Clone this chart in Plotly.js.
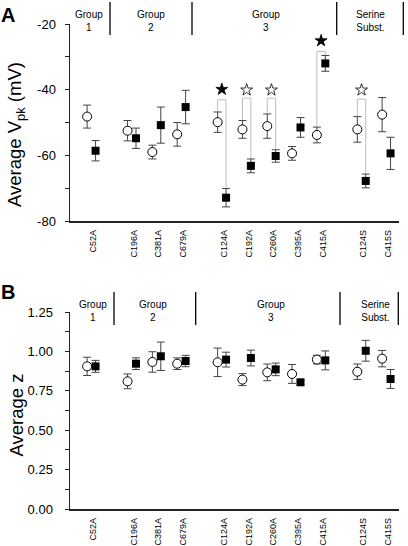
<!DOCTYPE html>
<html>
<head>
<meta charset="utf-8">
<script src="https://cdn.plot.ly/plotly-3.0.1.min.js"></script>
<style>
html,body{margin:0;padding:0;background:#fff;}
#chart{width:408px;height:546px;}
</style>
</head>
<body>
<div id="chart"></div>
<script>
// ---------- data ----------
const categories = ['C52A','C196A','C381A','C679A','C124A','C192A','C260A','C395A','C415A','C124S','C415S'];
const groupIdx   = [0,1,1,1,2,2,2,2,2,3,3];
const groupNames = ['Group<br>1','Group<br>2','Group<br>3','Serine<br>Subst.'];

const vpkOpen       = [-48.2,-52.5,-59.0,-53.6,-49.9,-52.1,-51.1,-59.4,-53.8,-52.1,-47.6];
const vpkOpenErr    = [3.5,3.1,2.1,3.6,3.1,2.7,3.7,2.1,2.4,3.9,5.2];
const vpkFilled     = [-58.6,-54.8,-50.8,-45.3,-72.9,-63.2,-60.2,-51.5,-32.0,-67.8,-59.4];
const vpkFilledErr  = [3.1,3.1,5.5,5.1,2.8,2.1,1.9,3.0,2.4,2.1,4.9];

const zOpen         = [0.905,0.810,0.933,0.922,0.931,0.821,0.867,0.857,0.948,0.871,0.954];
const zOpenErr      = [0.058,0.047,0.065,0.037,0.090,0.038,0.053,0.060,0.027,0.049,0.052];
const zFilled       = [0.905,0.922,0.969,0.939,0.948,0.958,0.886,0.804,0.943,1.004,0.825];
const zFilledErr    = [0.038,0.037,0.090,0.036,0.047,0.050,0.040,0.012,0.060,0.066,0.060];

// significance markers (panel A)
const sigCats    = ['C124A','C192A','C260A','C415A','C124S'];
const sigStrong  = [true,false,false,true,false];
const bracketTop = [-43.1,-42.6,-42.6,-28.4,-42.9];
const starY      = [-39.9,-40.1,-40.1,-25.1,-40.1];

const yTicksA = [-80,-60,-40,-20];
const yTicksB = [0,0.25,0.5,0.75,1.0,1.25];

// ---------- layout helpers ----------
const W = 408, H = 546;
const GROUP_GAP = 0.63;
const CIRC_OFF = -0.25, SQ_OFF = 0.09;
const pos = categories.map((c,i)=> i + groupIdx[i]*GROUP_GAP);
const xRange = [-0.94, pos[pos.length-1] + 0.43];
const FONT = 'Liberation Sans, Arial, Helvetica, sans-serif';
const px = v => v / W;
const py = v => 1 - v / H;

const errStyle = (arr) => ({type:'data', array:arr, visible:true, color:'#444', thickness:1, width:4});

function pointTraces(xa, ya, openV, openE, filledV, filledE){
  return [
    {type:'scatter', mode:'markers', xaxis:xa, yaxis:ya, cliponaxis:false,
     x: pos.map(p=>p+CIRC_OFF), y: openV, error_y: errStyle(openE),
     marker:{symbol:'circle', size:9, color:'#fff', line:{color:'#000', width:1}}, showlegend:false, hoverinfo:'skip'},
    {type:'scatter', mode:'markers', xaxis:xa, yaxis:ya, cliponaxis:false,
     x: pos.map(p=>p+SQ_OFF), y: filledV, error_y: errStyle(filledE),
     marker:{symbol:'square', size:8, color:'#000', line:{color:'#000', width:0}}, showlegend:false, hoverinfo:'skip'}
  ];
}

// brackets
const bx = [], by = [];
sigCats.forEach((c,k)=>{
  const i = categories.indexOf(c);
  const xc = pos[i]+CIRC_OFF, xs = pos[i]+SQ_OFF;
  bx.push(xc, xc, xs, xs, null);
  by.push(vpkOpen[i]+vpkOpenErr[i], bracketTop[k], bracketTop[k], vpkFilled[i]+vpkFilledErr[i], null);
});
const bracketTrace = {type:'scatter', mode:'lines', xaxis:'x', yaxis:'y', x:bx, y:by,
  line:{color:'#bdbdbd', width:1}, showlegend:false, hoverinfo:'skip', cliponaxis:false};
const starTrace = {type:'scatter', mode:'markers', xaxis:'x', yaxis:'y', cliponaxis:false,
  x: sigCats.map(c=>pos[categories.indexOf(c)] + (CIRC_OFF+SQ_OFF)/2),
  y: starY,
  marker:{symbol: sigStrong.map(s=> s ? 'star' : 'star-open'), size:9, color:'#000', line:{color:'#000', width:0.8}},
  showlegend:false, hoverinfo:'skip'};

const data = [bracketTrace]
  .concat(pointTraces('x','y', vpkOpen, vpkOpenErr, vpkFilled, vpkFilledErr))
  .concat([starTrace])
  .concat(pointTraces('x2','y2', zOpen, zOpenErr, zFilled, zFilledErr));

const xDom = [70/W, 399/W];
const xaxisBase = {
  domain: xDom, range: xRange, tickmode:'array', tickvals: pos, ticktext: categories,
  tickangle: -90, tickfont:{size:9, family:FONT, color:'#000'}, ticks:'', showgrid:false, zeroline:false,
  showline:true, linecolor:'#222', linewidth:1.5, ticklabelstandoff: 4, fixedrange:true
};
const yaxisBase = {
  ticks:'outside', ticklen:4, tickwidth:1, tickcolor:'#222', showgrid:false, zeroline:false,
  showline:true, linecolor:'#222', linewidth:1.5, tickfont:{size:13, family:FONT, color:'#000'},
  fixedrange:true
};

const annotations = [];
// y titles
annotations.push({xref:'paper', yref:'paper', x:px(16), y:py(135), text:'Average V<sub>pk</sub> (mV)', textangle:-90,
  showarrow:false, font:{size:18.5, family:FONT, color:'#000'}, xanchor:'center', yanchor:'middle'});
annotations.push({xref:'paper', yref:'paper', x:px(16), y:py(415.5), text:'Average z', textangle:-90,
  showarrow:false, font:{size:18.5, family:FONT, color:'#000'}, xanchor:'center', yanchor:'middle'});
// panel letters
annotations.push({xref:'paper', yref:'paper', x:px(8), y:py(14.5), text:'<b>A</b>', showarrow:false,
  font:{size:20, family:FONT, color:'#000'}, xanchor:'center', yanchor:'middle'});
annotations.push({xref:'paper', yref:'paper', x:px(7.5), y:py(292), text:'<b>B</b>', showarrow:false,
  font:{size:20, family:FONT, color:'#000'}, xanchor:'center', yanchor:'middle'});
// group labels
const groupXA = [88.5, 150.7, 266.3, 370.7], groupYA = 21;
const groupXB = [92.5, 153, 270.7, 375],   groupYB = 311;
groupNames.forEach((g,k)=>{
  annotations.push({xref:'paper', yref:'paper', x:px(groupXA[k]), y:py(groupYA), text:g, showarrow:false,
    font:{size:10, family:FONT, color:'#000'}, xanchor:'center', yanchor:'middle'});
  annotations.push({xref:'paper', yref:'paper', x:px(groupXB[k]), y:py(groupYB), text:g, showarrow:false,
    font:{size:10, family:FONT, color:'#000'}, xanchor:'center', yanchor:'middle'});
});

const shapes = [];
const sepA = [110, 192, 336.7, 403.3], sepB = [114, 195.7, 340, 398.3];
sepA.forEach(x=> shapes.push({type:'line', xref:'paper', yref:'paper', x0:px(x), x1:px(x), y0:py(2), y1:py(35),
  line:{color:'#000', width:1.3}}));
sepB.forEach(x=> shapes.push({type:'line', xref:'paper', yref:'paper', x0:px(x), x1:px(x), y0:py(292), y1:py(325),
  line:{color:'#000', width:1.3}}));

const layout = {
  width:W, height:H, margin:{l:0,r:0,t:0,b:0}, paper_bgcolor:'#fff', plot_bgcolor:'rgba(0,0,0,0)',
  showlegend:false, font:{family:FONT, color:'#000'},
  xaxis: Object.assign({}, xaxisBase, {anchor:'y'}),
  yaxis: Object.assign({}, yaxisBase, {anchor:'x', domain:[py(221), py(24)], range:[-80,-20],
     tickmode:'array', tickvals:yTicksA, ticktext:yTicksA.map(String), ticklabelstandoff:6,
     minor:{tickmode:'linear', tick0:-80, dtick:10, ticks:'outside', ticklen:3.5, tickcolor:'#222'}}),
  xaxis2: Object.assign({}, xaxisBase, {anchor:'y2'}),
  yaxis2: Object.assign({}, yaxisBase, {anchor:'x2', domain:[py(509), py(312)], range:[0,1.25],
     tickmode:'array', tickvals:yTicksB, ticktext:yTicksB.map(v=>v.toFixed(2)), ticklabelstandoff:9,
     minor:{tickmode:'linear', tick0:0, dtick:0.125, ticks:'outside', ticklen:3.5, tickcolor:'#222'}}),
  annotations: annotations,
  shapes: shapes
};

Plotly.newPlot('chart', data, layout, {displayModeBar:false, staticPlot:true});
</script>
</body>
</html>
